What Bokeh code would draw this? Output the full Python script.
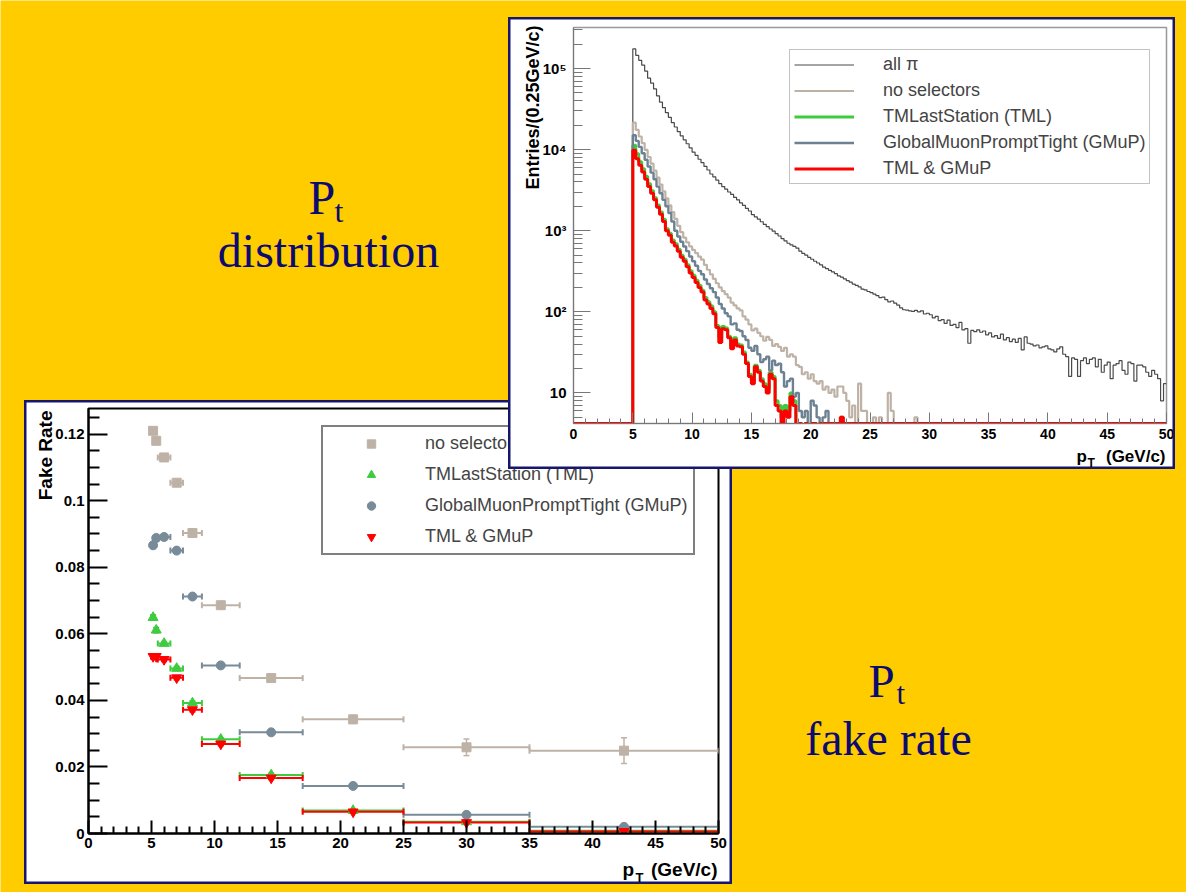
import numpy as np
from math import pi
from bokeh.plotting import figure
from bokeh.models import (ColumnDataSource, Whisker, TeeHead, Legend, LegendItem,
                          Label, FixedTicker, GridBox, Range1d)
from bokeh.embed import file_html
from bokeh.resources import INLINE

# ---------------- fake-rate data (bottom-left panel) ----------------
fr_bin_edges = [5.0, 5.25, 5.5, 6.5, 7.5, 9.0, 12.0, 17.0, 25.0, 35.0, 50.0]
fr_no_sel = [0.1210, 0.1180, 0.1130, 0.1054, 0.0903, 0.0686, 0.0467, 0.0343, 0.0259, 0.0249]
fr_no_sel_err = [0.0010, 0.0010, 0.0008, 0.0008, 0.0008, 0.0008, 0.0008, 0.0012, 0.0025, 0.0039]
fr_tml = [0.0649, 0.0611, 0.0571, 0.0496, 0.0392, 0.0283, 0.0176, 0.0069, 0.0035, 0.0008]
fr_tml_err = [0.0008, 0.0008, 0.0006, 0.0006, 0.0006, 0.0005, 0.0005, 0.0004, 0.0004, 0.0004]
fr_gmup = [0.0866, 0.0888, 0.0891, 0.0850, 0.0712, 0.0505, 0.0304, 0.0143, 0.0056, 0.0020]
fr_gmup_err = [0.0009, 0.0009, 0.0007, 0.0007, 0.0007, 0.0006, 0.0006, 0.0006, 0.0006, 0.0006]
fr_both = [0.0532, 0.0532, 0.0523, 0.0468, 0.0372, 0.0269, 0.0167, 0.0065, 0.0033, 0.0006]
fr_both_err = [0.0007, 0.0007, 0.0006, 0.0006, 0.0006, 0.0005, 0.0005, 0.0004, 0.0004, 0.0004]
fr_labels = ["no selectors", "TMLastStation (TML)", "GlobalMuonPromptTight (GMuP)", "TML & GMuP"]

# ---------------- pT distribution data (top-right panel) ----------------
hist_bin_width = 0.25
hist_first_edge = 5.0
counts_all_pi = [
    174000, 145000, 126000, 110000, 93000, 76000, 66000, 56000, 46000, 38500,
    33000, 28500, 25000, 21500, 19000, 16700, 14800, 13200, 11800, 10500,
    9300, 8500, 7600, 6900, 6200, 5600, 5000, 4600, 4200, 3800,
    3500, 3250, 3000, 2800, 2570, 2400, 2200, 2050, 1880, 1750,
    1580, 1480, 1390, 1290, 1200, 1120, 1050, 990, 920, 860,
    800, 750, 700, 670, 640, 610, 560, 525, 500, 470,
    445, 420, 400, 380, 355, 340, 325, 310, 295, 278,
    268, 255, 242, 232, 220, 212, 203, 190, 186, 178,
    172, 165, 158, 150, 152, 141, 133, 136, 128, 121,
    112, 106, 105, 103, 101, 104, 100, 103, 94, 96,
    92, 84, 88, 78, 80, 72, 79, 68, 70, 64,
    74, 60, 62, 41, 59, 57, 60, 56, 58, 52,
    55, 49, 51, 47, 53, 45, 48, 43, 46, 42,
    47, 34, 49, 41, 40, 38, 39, 36, 37, 38,
    35, 34, 32, 35, 37, 30, 28, 16, 27, 26,
    16, 25, 27, 23, 26, 27, 21, 26, 18, 22,
    24, 15, 22, 23, 25, 19, 17, 24, 23, 14,
    22, 22, 21, 18, 16, 19, 17, 15, 8, 13]
counts_no_sel = [
    21500, 17500, 14500, 12000, 9900, 8100, 6700, 5500, 4500, 3700,
    3050, 2500, 2050, 1700, 1400, 1150, 960, 820, 720, 640,
    580, 530, 480, 440, 380, 330, 290, 255, 225, 200,
    180, 165, 150, 130, 120, 110, 104, 88, 80, 70,
    59, 62, 55, 50, 44, 49, 45, 38, 40, 37,
    33, 36, 28, 30, 28, 22, 21, 17, 18, 15,
    17, 14, 13, 14, 11, 12, 10, 11, 9, 12,
    12, 10, 8, 5, 7, 4, 13, 6, 6, 3,
    4, 5, 3, 5, 2, 4, 10, 6, 2, 1,
    0, 1, 2, 1, 0, 5, 2, 0, 1, 0]
counts_tml = [
    11300, 8900, 7100, 5800, 4700, 3800, 3100, 2550, 2080, 1700,
    1380, 1060, 930, 770, 690, 590, 500, 445, 380, 320,
    282, 245, 212, 185, 150, 133, 118, 100, 68, 48,
    66, 63, 50, 38, 48, 40, 39, 32, 24, 17,
    14, 22, 19, 15, 13, 11, 18, 16, 8, 7,
    5, 7, 6, 10, 8, 4, 0, 2, 0, 1,
    0, 0, 1, 0, 0, 0, 0, 0, 0, 0,
    5]
counts_gmup = [
    15000, 12800, 10800, 9000, 7500, 6200, 5200, 4300, 3500, 2900,
    2400, 2000, 1650, 1300, 1000, 850, 730, 640, 560, 480,
    420, 370, 320, 290, 250, 220, 195, 175, 150, 125,
    110, 96, 88, 70, 72, 60, 58, 50, 45, 36,
    33, 38, 30, 24, 26, 28, 19, 25, 22, 23,
    18, 12, 14, 15, 9, 10, 6, 5, 6, 4,
    8, 7, 5, 4, 5, 6, 3]
counts_tml_gmup = [
    9800, 7700, 6400, 5300, 4300, 3500, 2900, 2400, 1950, 1600,
    1300, 1000, 880, 720, 650, 560, 470, 420, 360, 300,
    265, 230, 200, 175, 140, 125, 110, 95, 64, 42,
    62, 60, 48, 35, 45, 38, 37, 30, 23, 16,
    13, 21, 18, 14, 12, 10, 17, 15, 7, 6,
    4, 6, 5, 9, 7, 3, 0, 2, 0, 1,
    0, 0, 1, 0, 0, 0, 0, 0, 0, 0,
    5]
hist_labels = ["all \u03c0", "no selectors", "TMLastStation (TML)",
               "GlobalMuonPromptTight (GMuP)", "TML & GMuP"]

# ---------------- styling ----------------
YELLOW = "#FFCC00"
NAVY = "#0B0B70"
BORDER = "#16166E"
TAN = "#BEB2A7"
GREEN = "#3FCB3F"
SLATE = "#788B98"
RED = "#FF0000"
FONT = "Liberation Sans"
SERIF = "Liberation Serif"


def style_axis(ax, tick_in, minor_in, size, color, width, standoff):
    ax.major_tick_in = tick_in
    ax.major_tick_out = 0
    ax.minor_tick_in = minor_in
    ax.minor_tick_out = 0
    ax.axis_line_color = color
    ax.major_tick_line_color = color
    ax.minor_tick_line_color = color
    ax.axis_line_width = width
    ax.major_tick_line_width = width
    ax.minor_tick_line_width = width
    ax.major_label_text_font = FONT
    ax.major_label_text_font_style = "bold"
    ax.major_label_text_font_size = size
    ax.major_label_text_color = "black"
    ax.major_label_standoff = standoff


def overlay(w, h, titles):
    """Transparent sheet over a panel: panel frame line and axis titles (pixel coords)."""
    ov = figure(width=w, height=h, x_range=Range1d(0, w), y_range=Range1d(h, 0),
                output_backend="svg", toolbar_location=None, frame_align=False,
                x_axis_location=None, y_axis_location=None, min_border=0,
                background_fill_color=None, border_fill_color=None,
                outline_line_color=BORDER, outline_line_width=4)
    ov.grid.visible = False
    for text, x, y, size, align, angle in titles:
        ov.add_layout(Label(x=x, y=y, text=text, text_font=FONT, text_font_size=size,
                            text_font_style="bold", text_color="black", text_align=align,
                            text_baseline="alphabetic", angle=angle))
    return ov


# ================= background slide =================
bg = figure(width=1186, height=892, x_range=Range1d(0, 1186), y_range=Range1d(892, 0),
            output_backend="svg", toolbar_location=None, frame_align=False,
            x_axis_location=None, y_axis_location=None, min_border=0,
            background_fill_color=YELLOW, border_fill_color=YELLOW, outline_line_color=None)
bg.grid.visible = False
for txt, x, y, size, align in [("P", 308, 197, "48px", "left"), ("t", 334, 210, "32px", "left"),
                               ("distribution", 328, 250, "48px", "center"),
                               ("P", 868, 680, "47px", "left"), ("t", 896, 693, "31px", "left"),
                               ("fake rate", 888, 738, "48px", "center")]:
    bg.add_layout(Label(x=x, y=y, text=txt, text_font=SERIF, text_font_size=size,
                        text_color=NAVY, text_align=align, text_baseline="alphabetic"))

# ================= fake-rate panel =================
fr = figure(width=708, height=484, x_range=Range1d(0, 50), y_range=Range1d(0, 0.1277),
            output_backend="svg", toolbar_location=None, frame_align=False,
            min_border_left=64, min_border_right=14, min_border_top=8, min_border_bottom=51,
            background_fill_color="white", border_fill_color="white",
            outline_line_color="black", outline_line_width=2)
fr.grid.visible = False

fr_y_ticks = [0, 0.02, 0.04, 0.06, 0.08, 0.1, 0.12]
fr_y_minor = [round(0.005 * k, 3) for k in range(26) if k % 4 != 0]
fr.yaxis.ticker = FixedTicker(ticks=fr_y_ticks, minor_ticks=fr_y_minor)
fr.yaxis.major_label_overrides = {t: ("%g" % t) for t in fr_y_ticks}
fr.xaxis.ticker = FixedTicker(ticks=list(range(0, 51, 5)),
                              minor_ticks=[k for k in range(51) if k % 5 != 0])
style_axis(fr.yaxis[0], 19, 11, "15px", "black", 2, 4)
style_axis(fr.xaxis[0], 13, 7, "15px", "black", 2, 4)

edges = np.array(fr_bin_edges)
lo, hi = edges[:-1], edges[1:]
centers = 0.5 * (lo + hi)
fr_series = [(fr_no_sel, fr_no_sel_err, "square", TAN, 9),
             (fr_tml, fr_tml_err, "triangle", GREEN, 10),
             (fr_gmup, fr_gmup_err, "circle", SLATE, 9),
             (fr_both, fr_both_err, "inverted_triangle", RED, 10)]
fr_items = []
for label, (rate, err, marker, color, size) in zip(fr_labels, fr_series):
    r = np.array(rate)
    e = np.array(err)
    src = ColumnDataSource(dict(x=centers, y=r, xlo=lo, xhi=hi, ylo=r - e, yhi=r + e))
    fr.add_layout(Whisker(source=src, base="y", lower="xlo", upper="xhi", dimension="width",
                          line_color=color, line_width=2,
                          lower_head=TeeHead(size=6, line_color=color, line_width=2),
                          upper_head=TeeHead(size=6, line_color=color, line_width=2)))
    fr.add_layout(Whisker(source=src, base="x", lower="ylo", upper="yhi", dimension="height",
                          line_color=color, line_width=1.5,
                          lower_head=TeeHead(size=6, line_color=color, line_width=1.5),
                          upper_head=TeeHead(size=6, line_color=color, line_width=1.5)))
    rr = fr.scatter("x", "y", source=src, marker=marker, size=size,
                    fill_color=color, line_color=color)
    fr_items.append(LegendItem(label=label, renderers=[rr]))

fr_legend = Legend(items=fr_items, location=(233, 278), orientation="vertical",
                   border_line_color="black", border_line_width=2,
                   background_fill_color="white", background_fill_alpha=1.0,
                   label_text_font=FONT, label_text_font_size="18px",
                   glyph_width=84, glyph_height=21, label_height=21,
                   spacing=10, padding=6, label_standoff=12, margin=0)
fr.add_layout(fr_legend)

fr_ov = overlay(708, 484, [("Fake Rate", 21, 10, "19px", "right", pi / 2),
                           ("p", 598, 469, "19px", "left", 0.0),
                           ("T", 611, 477, "13px", "left", 0.0),
                           ("(GeV/c)", 693, 469, "19px", "right", 0.0)])

# ================= pT distribution panel =================
HIST_YMIN = 4.2
hs = figure(width=667, height=452, x_range=Range1d(0, 50), y_range=Range1d(HIST_YMIN, 3.2e5),
            y_axis_type="log", output_backend="svg", toolbar_location=None, frame_align=False,
            min_border_left=65, min_border_right=9, min_border_top=10, min_border_bottom=46,
            background_fill_color="white", border_fill_color="white",
            outline_line_color="#999999", outline_line_width=1.5)
hs.grid.visible = False

log_major = [10, 100, 1000, 10000, 100000]
log_minor = [m * d for d in [1, 10, 100, 1000, 10000, 100000] for m in range(2, 10)
             if HIST_YMIN <= m * d <= 3.2e5]
hs.yaxis.ticker = FixedTicker(ticks=log_major, minor_ticks=log_minor)
hs.yaxis.major_label_overrides = {10: "10", 100: "10\u00b2", 1000: "10\u00b3",
                                  10000: "10\u2074", 100000: "10\u2075"}
hs.xaxis.ticker = FixedTicker(ticks=list(range(0, 51, 5)),
                              minor_ticks=[k for k in range(51) if k % 5 != 0])
style_axis(hs.yaxis[0], 17, 9, "15px", "#777777", 1, 7)
style_axis(hs.xaxis[0], 11, 5, "14px", "#777777", 1, 5)

n_bins = len(counts_all_pi)
left_edges = hist_first_edge + hist_bin_width * np.arange(n_bins)


def step_source(counts):
    c = np.zeros(n_bins)
    c[:len(counts)] = counts
    c = np.where(c > 0, c, HIST_YMIN)  # empty bins drawn on the frame floor, as ROOT does
    xs = np.concatenate([[0.0], left_edges, [left_edges[-1] + hist_bin_width]])
    ys = np.concatenate([[HIST_YMIN], c, [c[-1]]])
    return ColumnDataSource(dict(x=xs, y=ys))


hist_series = [(counts_all_pi, "#4A4A4A", 1.2), (counts_no_sel, TAN, 2.2),
               (counts_tml, GREEN, 3), (counts_gmup, "#6C8192", 2.4),
               (counts_tml_gmup, RED, 3)]
hist_items = []
for label, (counts, color, width) in zip(hist_labels, hist_series):
    rr = hs.step("x", "y", source=step_source(counts), mode="after",
                 line_color=color, line_width=width)
    hist_items.append(LegendItem(label=label, renderers=[rr]))

hs_legend = Legend(items=hist_items, location=(216, 239), orientation="vertical",
                   border_line_color="#888888", border_line_width=1,
                   background_fill_color="white", background_fill_alpha=1.0,
                   label_text_font=FONT, label_text_font_size="18px",
                   glyph_width=60, glyph_height=21, label_height=21,
                   spacing=5, padding=4, label_standoff=29, margin=0)
hs.add_layout(hs_legend)

hs_ov = overlay(667, 452, [("Entries/(0.25GeV/c)", 24, 8, "18px", "right", pi / 2),
                           ("p", 568, 439, "17px", "left", 0.0),
                           ("T", 579, 445, "12px", "left", 0.0),
                           ("(GeV/c)", 657, 439, "17px", "right", 0.0)])

# ================= slide layout (overlapping panels) =================
layout = GridBox(children=[(bg, 0, 0, 5, 5),
                           (fr, 2, 1, 2, 2), (fr_ov, 2, 1, 2, 2),
                           (hs, 1, 2, 2, 2), (hs_ov, 1, 2, 2, 2)],
                 rows=["17px", "383px", "69px", "415px", "8px"],
                 cols=["24px", "484px", "224px", "443px", "11px"])

open("out.html", "w").write(file_html(layout, INLINE))
